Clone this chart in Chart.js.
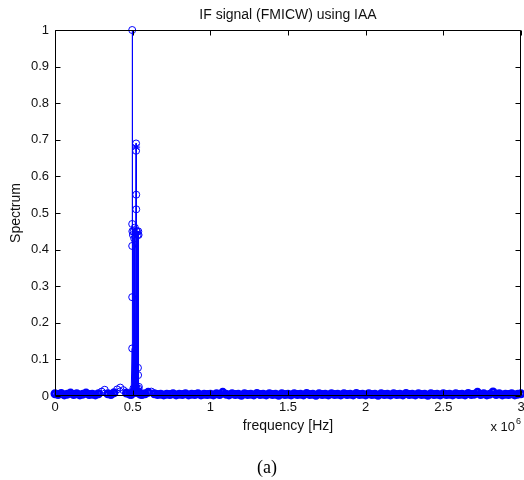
<!DOCTYPE html>
<html>
<head>
<meta charset="utf-8">
<script src="https://cdn.jsdelivr.net/npm/chart.js@4/dist/chart.umd.min.js"></script>
<style>
html,body{margin:0;padding:0;background:#fff;}
#wrap{position:relative;width:524px;height:480px;overflow:hidden;}
canvas{display:block;}
#cap{position:absolute;left:0;top:457px;width:534px;text-align:center;font:18px "Liberation Serif","Times New Roman",serif;line-height:20px;color:#000;}
</style>
</head>
<body>
<div id="wrap">
<canvas id="c" width="524" height="480"></canvas>
<div id="cap">(a)</div>
</div>
<script>
// ---- data (frequency in units of 10^6 Hz) ----
const chartTitle = 'IF signal (FMICW) using IAA';
const xLabel = 'frequency [Hz]';
const yLabel = 'Spectrum';
const xTicks = [0, 0.5, 1, 1.5, 2, 2.5, 3];
const yTicks = [0, 0.1, 0.2, 0.3, 0.4, 0.5, 0.6, 0.7, 0.8, 0.9, 1];
const xTickLabels = ['0', '0.5', '1', '1.5', '2', '2.5', '3'];
const yTickLabels = ['0', '0.1', '0.2', '0.3', '0.4', '0.5', '0.6', '0.7', '0.8', '0.9', '1'];

// noise floor of the IAA spectrum
const floorFreq = [
  0,0.02,0.04,0.06,0.08,0.10,0.12,0.14,0.16,0.18,0.20,0.22,0.24,0.26,0.28,0.30,0.32,0.34,0.36,0.38,0.40,0.42,0.44,0.46,0.48,
  0.56,0.58,0.60,0.62,0.64,0.66,0.68,0.70,0.72,0.74,0.76,0.78,0.80,0.82,0.84,0.86,0.88,0.90,0.92,0.94,0.96,0.98,
  1.00,1.02,1.04,1.06,1.08,1.10,1.12,1.14,1.16,1.18,1.20,1.22,1.24,1.26,1.28,1.30,1.32,1.34,1.36,1.38,1.40,1.42,1.44,1.46,1.48,
  1.50,1.52,1.54,1.56,1.58,1.60,1.62,1.64,1.66,1.68,1.70,1.72,1.74,1.76,1.78,1.80,1.82,1.84,1.86,1.88,1.90,1.92,1.94,1.96,1.98,
  2.00,2.02,2.04,2.06,2.08,2.10,2.12,2.14,2.16,2.18,2.20,2.22,2.24,2.26,2.28,2.30,2.32,2.34,2.36,2.38,2.40,2.42,2.44,2.46,2.48,
  2.50,2.52,2.54,2.56,2.58,2.60,2.62,2.64,2.66,2.68,2.70,2.72,2.74,2.76,2.78,2.80,2.82,2.84,2.86,2.88,2.90,2.92,2.94,2.96,2.98,3.00
];
const floorVal = [
  0.006,0.004,0.007,0.003,0.005,0.008,0.004,0.006,0.003,0.005,0.008,0.004,0.005,0.003,0.006,0.012,0.017,0.006,0.004,0.009,0.018,0.023,0.016,0.008,0.005,
  0.004,0.006,0.010,0.012,0.006,0.004,0.005,0.003,0.005,0.004,0.006,0.003,0.005,0.004,0.006,0.003,0.005,0.004,0.006,0.003,0.005,0.004,
  0.005,0.003,0.006,0.004,0.010,0.005,0.003,0.006,0.004,0.005,0.002,0.006,0.004,0.005,0.003,0.007,0.004,0.005,0.003,0.006,0.004,0.005,0.002,0.006,0.004,
  0.005,0.003,0.006,0.004,0.005,0.003,0.007,0.004,0.005,0.002,0.006,0.004,0.005,0.003,0.006,0.004,0.005,0.003,0.006,0.004,0.005,0.003,0.007,0.004,0.005,
  0.003,0.006,0.004,0.005,0.002,0.006,0.004,0.005,0.003,0.006,0.004,0.005,0.003,0.007,0.004,0.005,0.003,0.006,0.004,0.005,0.002,0.006,0.004,0.005,0.003,
  0.006,0.004,0.005,0.003,0.006,0.004,0.005,0.003,0.007,0.004,0.005,0.010,0.004,0.006,0.003,0.005,0.011,0.004,0.006,0.003,0.005,0.004,0.006,0.003,0.005,0.006
];

// main lobe around 0.5 x 10^6 Hz
const peakFreq = [0.490,0.497,0.497,0.497,0.497,0.497,0.498,0.500,0.502,0.504,0.506,0.508,0.510,0.512,0.514,0.516,0.518,0.522,0.522,0.523,0.523,0.524,0.526,0.528,0.530,0.532,0.534,0.535,0.536,0.537,0.538,0.540,0.542,0.548];
const peakVal  = [0.004,0.13,0.27,0.41,1.00,0.47,0.45,0.01,0.44,0.02,0.45,0.01,0.43,0.02,0.46,0.01,0.03,0.69,0.67,0.55,0.51,0.45,0.02,0.45,0.01,0.44,0.077,0.057,0.45,0.02,0.44,0.025,0.01,0.005];

// true target marker
const targetFreq = [0.522];
const targetVal  = [0.68];

// ---- build points ----
const pts = [];
floorFreq.forEach((f,i)=>pts.push({x:f,y:floorVal[i]}));
peakFreq.forEach((f,i)=>pts.push({x:f,y:peakVal[i]}));
pts.sort((a,b)=>a.x-b.x);
const tgt = targetFreq.map((f,i)=>({x:f,y:targetVal[i]}));

const FONT = '"Liberation Sans", Arial, Helvetica, sans-serif';
const BLUE = '#0000ff';
const INK = '#111';
const isFloor = c => c.raw && c.raw.y < 0.012;

const boxPlugin = {
  id:'matlabBox',
  afterDatasetsDraw(chart){
    const {ctx, chartArea:a, scales:{x,y}} = chart;
    ctx.save();
    ctx.strokeStyle = '#000';
    ctx.lineWidth = 1;
    const L = Math.round(a.left)+0.5, R = Math.round(a.right)-0.5, T = Math.round(a.top)+0.5, B = Math.round(a.bottom)-0.5;
    ctx.beginPath();
    ctx.rect(L, T, R-L, B-T);
    const tl = 5;
    xTicks.forEach(v=>{
      const px = Math.round(x.getPixelForValue(v))+0.5;
      ctx.moveTo(px,B); ctx.lineTo(px,B-tl);
      ctx.moveTo(px,T); ctx.lineTo(px,T+tl);
    });
    yTicks.forEach(v=>{
      const py = Math.round(y.getPixelForValue(v))+0.5;
      ctx.moveTo(L,py); ctx.lineTo(L+tl,py);
      ctx.moveTo(R,py); ctx.lineTo(R-tl,py);
    });
    ctx.stroke();
    ctx.restore();
  },
  afterDraw(chart){
    const {ctx, chartArea:a} = chart;
    ctx.save();
    ctx.fillStyle = INK;
    ctx.textBaseline = 'alphabetic';
    ctx.textAlign = 'right';
    ctx.font = '13px ' + FONT;
    ctx.fillText('x 10', a.right - 6, 431);
    ctx.textAlign = 'left';
    ctx.font = '9px ' + FONT;
    ctx.fillText('6', a.right - 5, 424);
    ctx.restore();
  }
};

new Chart(document.getElementById('c'), {
  type:'scatter',
  data:{datasets:[
    {label:'IAA', data:pts, showLine:true, borderColor:BLUE, borderWidth:1,
     pointStyle:'circle', pointRadius:c => isFloor(c) ? 3 : 3.5, pointBorderColor:BLUE, pointBackgroundColor:'rgba(0,0,0,0)',
     pointBorderWidth:c => isFloor(c) ? 3 : 1, clip:false, order:2},
    {label:'target', data:tgt, showLine:false, pointStyle:'star', pointRadius:4,
     pointBorderColor:BLUE, pointBackgroundColor:BLUE, pointBorderWidth:1, clip:false, order:1}
  ]},
  options:{
    responsive:false, animation:false, devicePixelRatio:1,
    layout:{autoPadding:false, padding:{left:0,right:3,top:0,bottom:44}},
    plugins:{
      legend:{display:false}, tooltip:{enabled:false},
      title:{display:true, text:chartTitle, fullSize:false, color:INK,
        font:{family:FONT, size:14, weight:'normal'}, padding:{top:7,bottom:6.2}}
    },
    scales:{
      x:{type:'linear', min:0, max:3,
        afterBuildTicks(s){ s.ticks = xTicks.map(v=>({value:v})); },
        ticks:{padding:4, color:INK, maxRotation:0, autoSkip:false, font:{family:FONT,size:13},
          callback:(v,i)=>xTickLabels[i]},
        grid:{display:false, drawTicks:false}, border:{display:false},
        title:{display:true, text:xLabel, color:INK, font:{family:FONT,size:14}, padding:{top:0,bottom:1}},
        afterFit(s){ s.height = 40; s.paddingRight = 0; s.paddingLeft = 0; }
      },
      y:{type:'linear', min:0, max:1,
        afterBuildTicks(s){ s.ticks = yTicks.map(v=>({value:v})); },
        ticks:{padding:6, color:INK, font:{family:FONT,size:13}, callback:(v,i)=>yTickLabels[i]},
        grid:{display:false, drawTicks:false}, border:{display:false},
        title:{display:true, text:yLabel, color:INK, font:{family:FONT,size:14}, padding:{top:8,bottom:8}},
        afterFit(s){ s.width = 55; }
      }
    }
  },
  plugins:[boxPlugin]
});
</script>
</body>
</html>
